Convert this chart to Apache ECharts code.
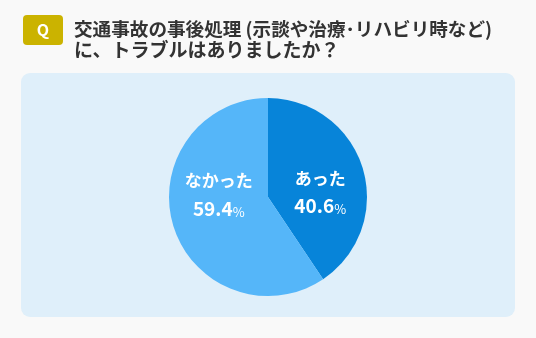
<!DOCTYPE html>
<html><head><meta charset="utf-8">
<style>html,body{margin:0;padding:0;background:#f9f9f9;}#c{width:536px;height:338px;}</style>
<script src="https://cdn.jsdelivr.net/npm/echarts@6/dist/echarts.min.js"></script>
</head><body><div id="c"></div>
<script>
var categories = ['あった', 'なかった'];
var values = [40.6, 59.4];
var colors = ['#0784d9', '#55b6f9'];
var offsets = [[2, 9], [1, -19]];
var titleLines = ['交通事故の事後処理 (示談や治療･リハビリ時など)', 'に、トラブルはありましたか？'];

var chart = echarts.init(document.getElementById('c'), null, {renderer: 'canvas'});
var font = '"Noto Sans CJK JP", "Noto Sans", sans-serif';
chart.setOption({
  backgroundColor: '#f9f9f9',
  animation: false,
  graphic: [
    {type: 'rect', shape: {x: 21, y: 73, width: 494, height: 244, r: 9}, style: {fill: '#dfeffa'}, z: 0},
    {type: 'rect', shape: {x: 23, y: 15, width: 40, height: 30, r: 4}, style: {fill: '#cbb300'}, z: 1},
    {type: 'text', x: 43, y: 30, style: {text: 'Q', fill: '#fff', font: 'bold 16px ' + font, textAlign: 'center', textVerticalAlign: 'middle'}, z: 2},
    {type: 'text', x: 74, y: 29, style: {text: titleLines[0], fill: '#333', font: 'bold 18.6px ' + font, textAlign: 'left', textVerticalAlign: 'middle'}, z: 2},
    {type: 'text', x: 74, y: 50, style: {text: titleLines[1], fill: '#333', font: 'bold 19px ' + font, textAlign: 'left', textVerticalAlign: 'middle'}, z: 2}
  ],
  series: [{
    type: 'pie',
    center: [268, 197],
    radius: [0, 99],
    startAngle: 90,
    clockwise: true,
    silent: true,
    itemStyle: {borderWidth: 0},
    label: {
      show: true,
      position: 'inside',
      color: '#fff',
      fontFamily: font,
      formatter: function (p) { return '{n|' + p.name + '}\n{v|' + p.value.toFixed(1) + '}{p|%}'; },
      rich: {
        n: {fontSize: 17, fontWeight: 'bold', color: '#fff', fontFamily: font, lineHeight: 25, align: 'center'},
        v: {fontSize: 19, fontWeight: 'bold', color: '#fff', fontFamily: font, lineHeight: 25, verticalAlign: 'bottom'},
        p: {fontSize: 13, fontWeight: 'normal', color: '#fff', fontFamily: font, lineHeight: 21, verticalAlign: 'bottom'}
      }
    },
    labelLine: {show: false},
    data: categories.map(function (c, i) {
      return {name: c, value: values[i], itemStyle: {color: colors[i]}, label: {offset: offsets[i]}};
    })
  }]
});
</script></body></html>
